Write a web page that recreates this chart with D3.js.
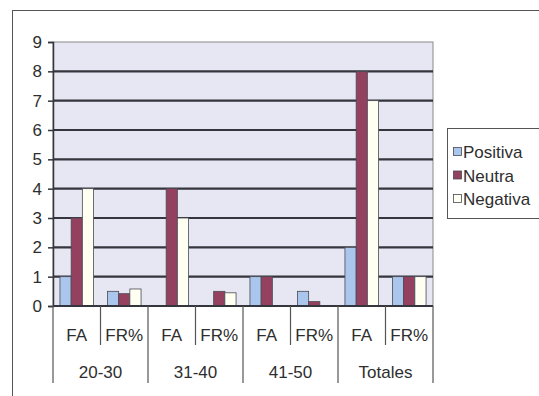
<!DOCTYPE html>
<html>
<head>
<meta charset="utf-8">
<script src="https://cdn.jsdelivr.net/npm/d3@7"></script>
<style>
  html, body { margin: 0; padding: 0; background: #ffffff; }
  svg { display: block; font-family: "Liberation Sans", Arial, sans-serif; }
</style>
</head>
<body>
<svg id="chart" width="539" height="396"></svg>
<script>
// Age groups and the two measures shown for each one
const groups = ["20-30", "31-40", "41-50", "Totales"];
const measures = ["FA", "FR%"];
const seriesNames = ["Positiva", "Neutra", "Negativa"];

// Values per sub-category, in order: 20-30 FA, 20-30 FR%, 31-40 FA, 31-40 FR%, ...
const positiva = [1, 0.5, 0, 0, 1, 0.5, 2, 1];
const neutra   = [3, 0.42, 4, 0.5, 1, 0.15, 8, 1];
const negativa = [4, 0.58, 3, 0.45, 0, 0, 7, 1];

const yTicks = [0, 1, 2, 3, 4, 5, 6, 7, 8, 9];
const colors = ["#aac6ec", "#94405f", "#fffff2"];
const textColor = "#2e2e2e";
const fontSize = 17;

const svg = d3.select("#chart");

// Outer chart frame
svg.append("rect")
  .attr("x", 12.5).attr("y", 10.5)
  .attr("width", 540).attr("height", 400)
  .attr("fill", "#ffffff").attr("stroke", "#555").attr("stroke-width", 1);

const plot = { left: 53, right: 433, top: 42, bottom: 306 };

const subcats = [];
groups.forEach(g => measures.forEach(m => subcats.push(g + "|" + m)));

const x = d3.scaleBand().domain(subcats).range([plot.left, plot.right]).paddingInner(0).paddingOuter(0);
const xs = d3.scaleBand().domain(seriesNames).range([0, x.bandwidth()]).paddingOuter(0.62).paddingInner(0);
const y = d3.scaleLinear().domain([0, 9]).range([plot.bottom, plot.top]);

// Plot area background
svg.append("rect")
  .attr("x", plot.left).attr("y", plot.top)
  .attr("width", plot.right - plot.left).attr("height", plot.bottom - plot.top)
  .attr("fill", "#e6e7f2").attr("stroke", "#8a8a8a").attr("stroke-width", 1);

// Horizontal gridlines
svg.append("g").selectAll("line")
  .data(yTicks.filter(t => t > 0 && t < 9))
  .join("line")
  .attr("x1", plot.left).attr("x2", plot.right)
  .attr("y1", d => y(d)).attr("y2", d => y(d))
  .attr("stroke", "#35353d").attr("stroke-width", 2.2);

// Bars
const seriesData = [positiva, neutra, negativa];
const barsG = svg.append("g");
seriesData.forEach((vals, si) => {
  barsG.append("g").selectAll("rect")
    .data(vals.map((v, i) => ({ v, key: subcats[i] })).filter(d => d.v > 0))
    .join("rect")
    .attr("x", d => x(d.key) + xs(seriesNames[si]))
    .attr("y", d => y(d.v))
    .attr("width", xs.bandwidth())
    .attr("height", d => y(0) - y(d.v))
    .attr("fill", colors[si])
    .attr("stroke", "#4a4a55").attr("stroke-width", 0.8);
});

// Y axis
const yAxis = d3.axisLeft(y).tickValues(yTicks).tickSize(5).tickPadding(6).tickFormat(d3.format("d"));
const yg = svg.append("g").attr("transform", `translate(${plot.left},0)`).call(yAxis);
yg.select(".domain").attr("stroke", "#35353d").attr("stroke-width", 1.5);
yg.selectAll(".tick line").attr("stroke", "#35353d").attr("stroke-width", 1.5);
yg.selectAll(".tick text").attr("font-size", fontSize).attr("fill", textColor)
  .attr("font-family", "'Liberation Sans', Arial, sans-serif");

// Zero baseline
svg.append("line")
  .attr("x1", plot.left).attr("x2", plot.right)
  .attr("y1", y(0)).attr("y2", y(0))
  .attr("stroke", "#35353d").attr("stroke-width", 2);

// Two-level category axis
const axG = svg.append("g");
const bounds = subcats.map(k => x(k)).concat([plot.right]);
bounds.forEach((bx, i) => {
  const groupEdge = (i % 2 === 0);
  axG.append("line")
    .attr("x1", bx).attr("x2", bx)
    .attr("y1", plot.bottom).attr("y2", groupEdge ? 383 : 345)
    .attr("stroke", "#555").attr("stroke-width", 1.2);
});
axG.selectAll("text.m")
  .data(subcats)
  .join("text")
  .attr("class", "m")
  .attr("x", d => x(d) + x.bandwidth() / 2)
  .attr("y", 341)
  .attr("text-anchor", "middle")
  .attr("font-size", fontSize).attr("fill", textColor)
  .text(d => d.split("|")[1]);
axG.selectAll("text.g")
  .data(groups)
  .join("text")
  .attr("class", "g")
  .attr("x", d => x(d + "|FA") + x.bandwidth())
  .attr("y", 378)
  .attr("text-anchor", "middle")
  .attr("font-size", fontSize).attr("fill", textColor)
  .text(d => d);

// Legend
const lg = svg.append("g");
lg.append("rect")
  .attr("x", 447.5).attr("y", 128.5)
  .attr("width", 120).attr("height", 90)
  .attr("fill", "#ffffff").attr("stroke", "#555").attr("stroke-width", 1);
seriesNames.forEach((name, i) => {
  const cy = 152 + i * 23.5;
  lg.append("rect")
    .attr("x", 453.5).attr("y", cy - 4.5)
    .attr("width", 8).attr("height", 8)
    .attr("fill", colors[i]).attr("stroke", "#4a4a55").attr("stroke-width", 0.8);
  lg.append("text")
    .attr("x", 463).attr("y", cy + 6)
    .attr("font-size", fontSize).attr("fill", textColor)
    .text(name);
});
</script>
</body>
</html>
